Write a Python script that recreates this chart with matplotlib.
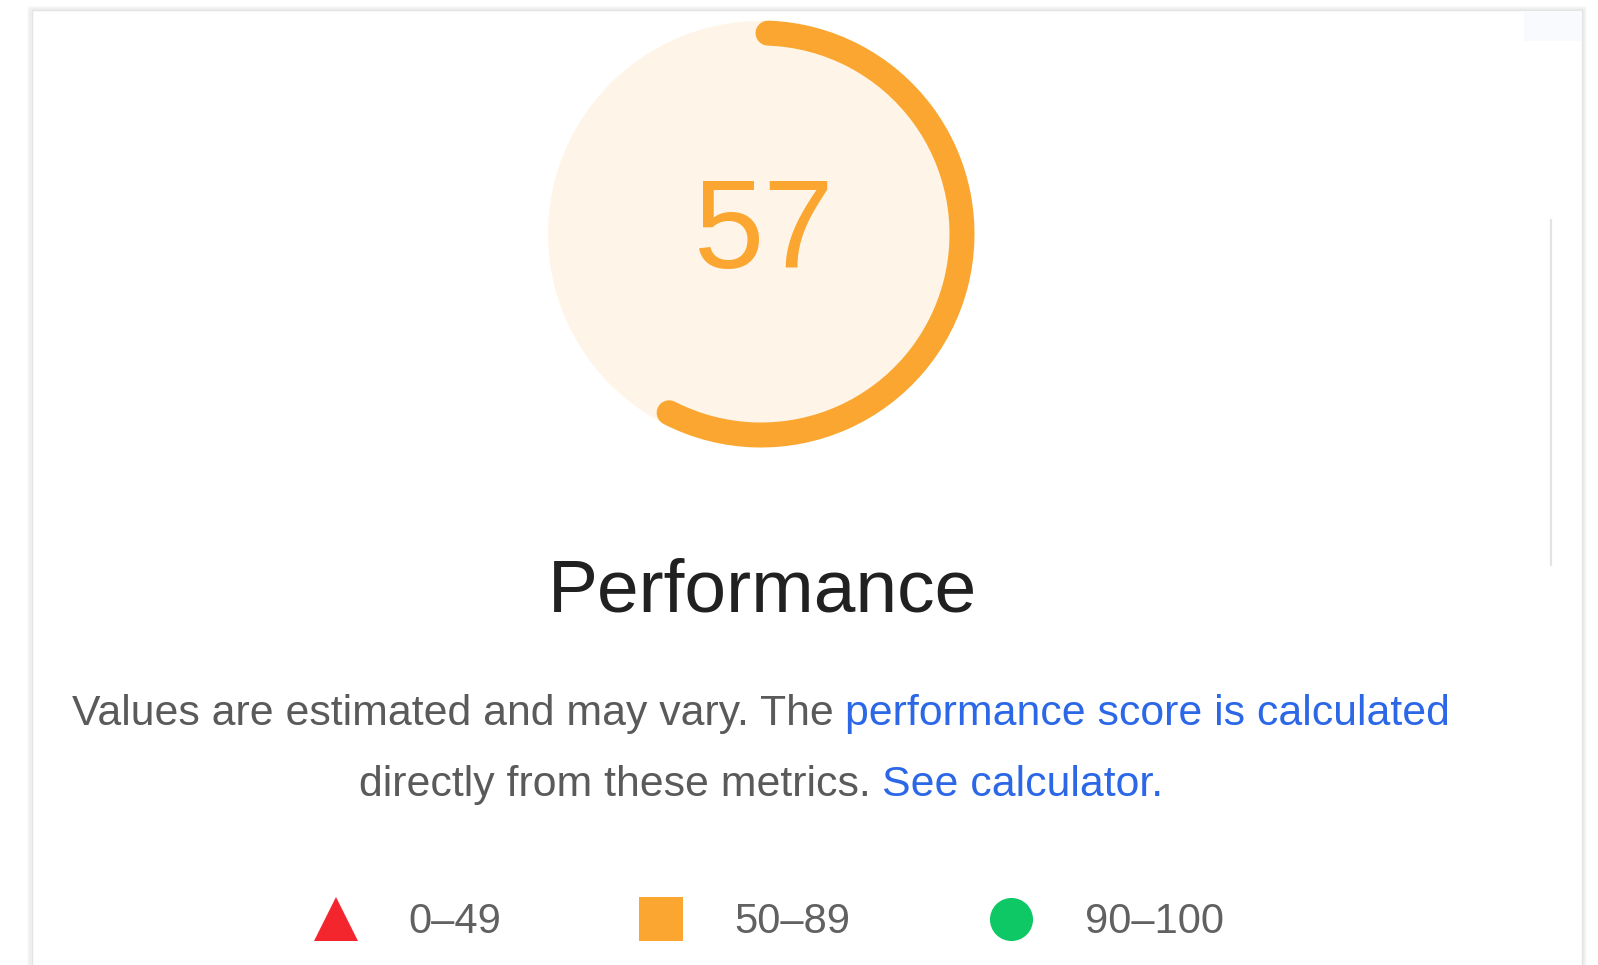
#!/usr/bin/env python3
"""
Lighthouse performance gauge card
"""

import matplotlib
matplotlib.use('Agg')
import matplotlib.pyplot as plt
from matplotlib.patches import Arc, Circle, Rectangle

plt.rcParams['font.family'] = ['Liberation Sans', 'DejaVu Sans']

# Data
score = 57
category = 'Performance'
note_line1 = [('Values are estimated and may vary. The ', 'text'),
              ('performance score is calculated', 'link')]
note_line2 = [('directly from these metrics. ', 'text'),
              ('See calculator.', 'link')]
legend_labels = ['0–49', '50–89', '90–100']
legend_markers = ['^', 's', 'o']
legend_colors = ['#f2262c', '#fba630', '#0dc864']

# Colors
orange = '#fba630'
gauge_bg = '#fef5e8'
text_gray = '#5a5a5a'
link_blue = '#2b67e6'

W, H = 1598, 965
fig = plt.figure(figsize=(W / 100, H / 100), dpi=100, facecolor='white')
ax = fig.add_axes([0, 0, 1, 1])
ax.set_xlim(0, W)
ax.set_ylim(H, 0)
ax.axis('off')

# Card with soft shadow
for i, a in enumerate([0.05, 0.04, 0.03, 0.02]):
    ax.add_patch(Rectangle((32 - i - 1, 10 - i), 1550 + 2 * (i + 1), H,
                           facecolor='none', edgecolor='black', alpha=a, lw=1.2))
ax.add_patch(Rectangle((32, 10), 1550, H, facecolor='white',
                       edgecolor='#e4e4e4', lw=1))
ax.add_patch(Rectangle((1524, 11), 57, 30, facecolor='#f8fafd', edgecolor='none'))

# Scrollbar
ax.plot([1551, 1551], [219, 566], color='#e3e3e3', lw=1.6, solid_capstyle='butt')

# Gauge
cx, cy = 761, 234
ax.add_patch(Circle((cx, cy), 213, facecolor=gauge_bg, edgecolor='none'))
start = -88
ax.add_patch(Arc((cx, cy), 402, 402, theta1=start, theta2=start + 360 * score / 100,
                 color=orange, lw=18, capstyle='round'))
ax.text(764, 268, str(score), fontsize=91, color=orange, ha='center', va='baseline')

# Title
ax.text(762, 611, category, fontsize=54, color='#212121', ha='center', va='baseline')


def draw_line(segments, y, center_x, size):
    texts = []
    for s, kind in segments:
        c = text_gray if kind == 'text' else link_blue
        if not texts:
            t = ax.text(0, y, s, fontsize=size, color=c, ha='left', va='baseline')
        else:
            t = ax.annotate(s, xy=(1, 0), xycoords=texts[-1], fontsize=size,
                            color=c, ha='left', va='bottom')
        texts.append(t)
    fig.canvas.draw()
    r = fig.canvas.get_renderer()
    left = texts[0].get_window_extent(r).x0
    right = texts[-1].get_window_extent(r).x1
    texts[0].set_x(center_x - (right - left) / 2)


draw_line(note_line1, 725, 761, 30.8)
draw_line(note_line2, 796, 761, 30.8)

# Legend
marker_x = [336, 661, 1011]
label_x = [408, 734, 1085]
for mx, lx, m, c, lab in zip(marker_x, label_x, legend_markers, legend_colors, legend_labels):
    ax.plot(mx, 919, marker=m, markersize=31, color=c, markeredgewidth=0)
    ax.text(lx, 933, lab, fontsize=30, color='#616161', ha='left', va='baseline')

plt.savefig('out.png', dpi=100, facecolor='white')
